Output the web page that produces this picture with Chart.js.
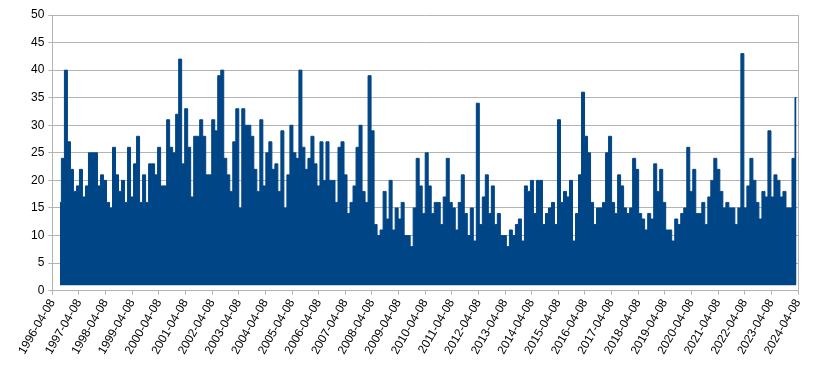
<!DOCTYPE html>
<html>
<head>
<meta charset="utf-8">
<script src="https://cdn.jsdelivr.net/npm/chart.js@4.4.1/dist/chart.umd.min.js"></script>
<style>
  html, body { margin: 0; padding: 0; background: #fff; }
  #wrap { width: 820px; height: 370px; }
</style>
</head>
<body>
<div id="wrap"><canvas id="chart"></canvas></div>
<script>
// Highest daily value in each narrow column band of the plot, left to right
const peaks = [
  16, 24, 40, 27, 22, 18, 19, 22, 17, 19, 25, 25, 25, 19, 21, 20, 16, 15, 26, 21, 18, 20, 16, 26, 17, 23, 28, 16, 21, 16, 23,
  23, 21, 26, 19, 19, 31, 26, 25, 32, 42, 23, 33, 26, 17, 28, 28, 31, 28, 21, 21, 31, 29, 39, 40, 24, 21, 18, 27, 33, 15, 33, 30,
  30, 28, 22, 18, 31, 19, 25, 27, 22, 23, 18, 29, 15, 21, 30, 25, 24, 40, 26, 22, 24, 28, 23, 19, 27, 20, 27, 20, 20, 16, 26, 27,
  21, 14, 16, 19, 26, 30, 18, 16, 39, 29, 12, 10, 11, 18, 13, 20, 11, 15, 13, 16, 10, 10, 8, 15, 24, 19, 14, 25, 19, 14, 16, 16,
  12, 17, 24, 16, 15, 11, 16, 21, 14, 10, 15, 9, 34, 12, 17, 21, 14, 19, 12, 14, 10, 10, 8, 11, 10, 12, 13, 9, 19, 18, 20,
  14, 20, 20, 12, 14, 15, 16, 12, 31, 16, 18, 17, 20, 9, 14, 21, 36, 28, 25, 16, 12, 15, 15, 16, 25, 28, 16, 14, 21, 19, 15, 14,
  15, 24, 22, 14, 13, 11, 14, 13, 23, 18, 22, 16, 11, 11, 9, 13, 12, 14, 15, 26, 18, 22, 14, 14, 16, 12, 17, 20, 24, 22, 18,
  15, 16, 15, 15, 12, 15, 43, 15, 19, 24, 20, 16, 13, 18, 17, 29, 17, 21, 20, 17, 18, 15, 15, 24, 35
];
const floorValue = 1;          // bottom of the dense band
const firstDate = '1996-06-30';
const lastDate = '2024-04-08';

const tickLabels = [
  '1996-04-08', '1997-04-08', '1998-04-08', '1999-04-08', '2000-04-08', '2001-04-08', '2002-04-08',
  '2003-04-08', '2004-04-08', '2005-04-08', '2006-04-08', '2007-04-08', '2008-04-08', '2009-04-08',
  '2010-04-08', '2011-04-08', '2012-04-08', '2013-04-08', '2014-04-08', '2015-04-08', '2016-04-08',
  '2017-04-08', '2018-04-08', '2019-04-08', '2020-04-08', '2021-04-08', '2022-04-08', '2023-04-08',
  '2024-04-08'
];
const yTicks = [0, 5, 10, 15, 20, 25, 30, 35, 40, 45, 50];

const dayOf = s => (Date.parse(s) - Date.parse(tickLabels[0])) / 86400000;

// one point per band, drawn as flat steps and filled down to the band's floor
const d0 = dayOf(firstDate), d1 = dayOf(lastDate);
const step = (d1 - d0) / peaks.length;
const points = peaks.map((v, i) => ({ x: d0 + (i + 0.5) * step, y: v }));

const frame = {
  id: 'frame',
  afterDraw(chart) {
    const { ctx, chartArea: a } = chart;
    ctx.save();
    ctx.strokeStyle = '#b3b3b3';
    ctx.lineWidth = 1;
    ctx.beginPath();
    ctx.moveTo(Math.round(a.right) + 0.5, a.top);
    ctx.lineTo(Math.round(a.right) + 0.5, a.bottom);
    ctx.stroke();
    ctx.restore();
  }
};

const font = { family: 'Liberation Sans', size: 12 };

new Chart(document.getElementById('chart'), {
  type: 'line',
  data: {
    datasets: [{
      data: points,
      borderColor: '#004586',
      backgroundColor: '#004586',
      borderWidth: 1,
      stepped: 'middle',
      fill: { value: floorValue },
      pointRadius: 0,
      tension: 0
    }]
  },
  options: {
    responsive: true,
    maintainAspectRatio: false,
    animation: false,
    layout: { padding: { left: 27, right: 22, top: 15, bottom: 11 } },
    plugins: { legend: { display: false }, tooltip: { enabled: false } },
    scales: {
      x: {
        type: 'linear',
        min: 0,
        max: dayOf(tickLabels[tickLabels.length - 1]),
        afterBuildTicks: axis => { axis.ticks = tickLabels.map(s => ({ value: dayOf(s) })); },
        ticks: {
          autoSkip: false, maxRotation: 60, minRotation: 60,
          color: '#000', font, padding: 2,
          callback: (v, i) => tickLabels[i]
        },
        grid: { drawOnChartArea: false, drawTicks: true, tickLength: 4, color: '#b3b3b3' },
        border: { color: '#b3b3b3' }
      },
      y: {
        min: 0, max: 50,
        afterBuildTicks: axis => { axis.ticks = yTicks.map(v => ({ value: v })); },
        ticks: { color: '#000', font, padding: 4 },
        grid: { color: '#b3b3b3', tickLength: 4 },
        border: { color: '#b3b3b3' }
      }
    }
  },
  plugins: [frame]
});
</script>
</body>
</html>
